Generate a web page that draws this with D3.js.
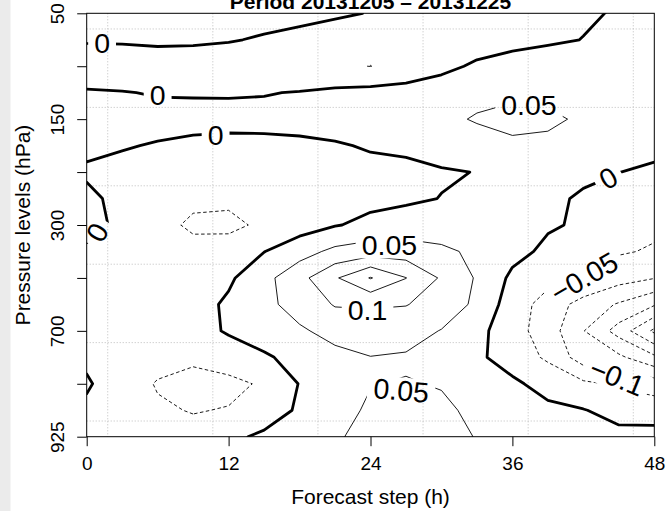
<!DOCTYPE html>
<meta charset="utf-8">
<style>
body { margin: 0; background: #fff; }
svg { display: block; font-family: "Liberation Sans", Arial, sans-serif; }
.grid line { stroke: #bdbdbd; stroke-width: 1; stroke-dasharray: 1,2; }
.axis path { display: none; }
.axis line { stroke: #000; }
</style>
<svg width="669" height="511"></svg>
<script src="https://d3js.org/d3.v7.min.js"></script>
<script>

// forecast steps (h), columns of the field
var steps = [0, 3, 6, 9, 12, 15, 18, 21, 24, 27, 30, 33, 36, 39, 42, 45, 48];

// pressure levels (hPa), rows of the field, top to bottom
var levels = [50, 70, 100, 125, 150, 175, 200, 250, 300, 400, 500, 600, 700, 775, 850, 900, 925];
var tickLevels = [50, 100, 150, 200, 300, 500, 700, 850, 925];
var labelLevels = [50, 150, 300, 700, 925];
var stepTicks = [0, 12, 24, 36, 48];

var thresholds = [-0.3, -0.25, -0.2, -0.15, -0.1, -0.05, 0, 0.05, 0.1, 0.15, 0.2];

// one row per level, one value per step
var values = [
  [0.020, 0.025, 0.030, 0.030, 0.028, 0.022, 0.015, 0.007, -0.002, -0.010, -0.015, -0.020, -0.020, -0.015, -0.006, 0.004, 0.010],
  [0.004, 0.006, 0.012, 0.010, 0.004, -0.006, -0.015, -0.025, -0.035, -0.035, -0.030, -0.022, -0.015, -0.008, 0.001, 0.012, 0.020],
  [-0.025, -0.030, -0.035, -0.035, -0.035, -0.035, -0.040, -0.045, -0.0505, -0.035, -0.012, 0.007, 0.020, 0.030, 0.035, 0.035, 0.035],
  [0.004, 0.002, -0.003, -0.003, -0.003, -0.002, 0.002, 0.010, 0.015, 0.020, 0.025, 0.040, 0.045, 0.043, 0.038, 0.035, 0.035],
  [0.012, 0.014, 0.015, 0.012, 0.011, 0.012, 0.014, 0.020, 0.025, 0.030, 0.042, 0.053, 0.058, 0.055, 0.046, 0.040, 0.040],
  [0.008, 0.003, -0.003, -0.008, -0.010, -0.010, -0.008, -0.004, 0.004, 0.012, 0.020, 0.035, 0.045, 0.044, 0.035, 0.030, 0.025],
  [-0.005, -0.012, -0.018, -0.022, -0.025, -0.025, -0.022, -0.018, -0.012, -0.015, -0.004, 0.001, 0.012, 0.012, 0.008, 0.001, -0.015],
  [0.008, -0.010, -0.025, -0.040, -0.042, -0.035, -0.028, -0.020, -0.013, -0.007, 0.001, 0.010, 0.012, 0.008, -0.005, -0.025, -0.035],
  [0.012, -0.008, -0.035, -0.058, -0.060, -0.042, -0.022, -0.003, 0.012, 0.020, 0.022, 0.020, 0.014, 0.005, -0.006, -0.030, -0.040],
  [-0.006, -0.020, -0.030, -0.035, -0.030, -0.001, 0.030, 0.062, 0.075, 0.075, 0.060, 0.040, 0.015, -0.010, -0.030, -0.045, -0.055],
  [-0.012, -0.020, -0.025, -0.025, -0.008, 0.035, 0.084, 0.144, 0.203, 0.151, 0.094, 0.045, -0.010, -0.035, -0.049, -0.080, -0.098],
  [-0.015, -0.022, -0.025, -0.020, 0.008, 0.040, 0.065, 0.104, 0.105, 0.102, 0.080, 0.040, -0.025, -0.070, -0.120, -0.155, -0.195],
  [-0.012, -0.020, -0.025, -0.022, 0.006, 0.030, 0.045, 0.062, 0.075, 0.070, 0.048, 0.015, -0.030, -0.075, -0.148, -0.220, -0.310],
  [-0.010, -0.030, -0.035, -0.040, -0.030, -0.008, 0.020, 0.040, 0.049, 0.045, 0.030, 0.010, -0.025, -0.057, -0.126, -0.140, -0.190],
  [0.006, -0.030, -0.053, -0.068, -0.060, -0.045, 0.002, 0.030, 0.049, 0.052, 0.048, 0.030, 0.010, -0.020, -0.040, -0.058, -0.075],
  [-0.010, -0.035, -0.045, -0.052, -0.048, -0.030, 0.008, 0.040, 0.054, 0.060, 0.056, 0.043, 0.025, 0.012, 0.002, -0.015, -0.020],
  [-0.030, -0.040, -0.042, -0.038, -0.012, 0.010, 0.030, 0.047, 0.058, 0.062, 0.058, 0.049, 0.040, 0.030, 0.020, 0.012, 0.015]
];

// contour labels: step (h), row position (fractional level index), angle
var contourLabels = [
  {text: "0", step: 1.3, row: 1.12, angle: 0},
  {text: "0", step: 6.0, row: 3.09, angle: 0},
  {text: "0", step: 10.9, row: 4.6, angle: 0},
  {text: "0", step: 0.87, row: 8.27, angle: -60},
  {text: "0", step: 44.1, row: 6.22, angle: -30},
  {text: "0.05", step: 37.4, row: 3.47, angle: 0},
  {text: "0.05", step: 25.6, row: 8.76, angle: 0},
  {text: "0.1", step: 23.75, row: 11.21, angle: 0},
  {text: "0.05", step: 26.6, row: 14.24, angle: 5},
  {text: "\u22120.05", step: 42.06, row: 9.97, angle: -30},
  {text: "\u22120.1", step: 44.85, row: 13.74, angle: 22}
];

var svg = d3.select("svg"),
    width = +svg.attr("width"),
    height = +svg.attr("height");

var plotL = 86.7, plotR = 654.3, plotT = 13.3, plotB = 436.7;

svg.append("rect").attr("x", 0).attr("y", 0).attr("width", 10.5).attr("height", height).attr("fill", "#ebebeb");

var x = d3.scaleLinear().domain([steps[0], steps[steps.length - 1]]).range([plotL, plotR]);
var yRow = d3.scaleLinear().domain([0, levels.length - 1]).range([plotT, plotB]);
var colStep = d3.scaleLinear().domain([0, steps.length - 1]).range([steps[0], steps[steps.length - 1]]);

var defs = svg.append("defs");
defs.append("clipPath").attr("id", "plotClip")
  .append("rect").attr("x", plotL).attr("y", plotT).attr("width", plotR - plotL).attr("height", plotB - plotT);
var mask = defs.append("mask").attr("id", "labelMask")
    .attr("maskUnits", "userSpaceOnUse")
    .attr("x", 0).attr("y", 0).attr("width", width).attr("height", height);
mask.append("rect").attr("width", width).attr("height", height).attr("fill", "white");

// dotted grid
var grid = svg.append("g").attr("class", "grid");
d3.range(6).forEach(function(k) {
  var gx = plotL + (k + 0.2) / 5.4 * (plotR - plotL);
  var gy = plotT + (k + 0.2) / 5.4 * (plotB - plotT);
  grid.append("line").attr("x1", gx).attr("x2", gx).attr("y1", plotT).attr("y2", plotB);
  grid.append("line").attr("x1", plotL).attr("x2", plotR).attr("y1", gy).attr("y2", gy);
});

// contours
var flat = [].concat.apply([], values);
var contours = d3.contours()
    .size([steps.length, levels.length])
    .thresholds(thresholds)(flat);

var proj = d3.geoTransform({
  point: function(px, py) {
    this.stream.point(x(colStep(px - 0.5)), yRow(py - 0.5));
  }
});
var path = d3.geoPath(proj);

var lines = svg.append("g")
    .attr("clip-path", "url(#plotClip)")
  .append("g")
    .attr("mask", "url(#labelMask)");

lines.selectAll("path")
  .data(contours)
  .enter().append("path")
    .attr("d", path)
    .attr("fill", "none")
    .attr("stroke", "#000")
    .attr("stroke-linejoin", "round")
    .attr("stroke-width", function(d) { return d.value === 0 ? 2.8 : 0.9; })
    .attr("stroke-dasharray", function(d) { return d.value < 0 ? "3.5,2.5" : null; });

// contour labels
var lab = svg.append("g");
contourLabels.forEach(function(d) {
  var tr = "translate(" + x(d.step) + "," + yRow(d.row) + ") rotate(" + d.angle + ")";
  var t = lab.append("text")
      .attr("transform", tr)
      .attr("text-anchor", "middle")
      .attr("dy", "0.36em")
      .attr("font-size", 28.5)
      .text(d.text);
  var b = t.node().getBBox();
  mask.append("rect")
      .attr("transform", tr)
      .attr("x", b.x - 6).attr("y", b.y + 3)
      .attr("width", b.width + 12).attr("height", b.height - 6)
      .attr("fill", "black");
});

// frame
svg.append("rect")
    .attr("x", plotL).attr("y", plotT)
    .attr("width", plotR - plotL).attr("height", plotB - plotT)
    .attr("fill", "none").attr("stroke", "#000").attr("stroke-width", 1);

// axes
var xAxis = svg.append("g")
    .attr("class", "axis")
    .attr("transform", "translate(0," + plotB + ")")
    .call(d3.axisBottom(x).tickValues(stepTicks).tickSize(9.5).tickPadding(10));
xAxis.selectAll("text")
    .attr("font-size", 19)
    .attr("font-family", "Liberation Sans, Arial, sans-serif")
    .attr("fill", "#000");

var yAxis = svg.append("g")
    .attr("class", "axis")
    .attr("transform", "translate(" + plotL + ",0)")
    .call(d3.axisLeft(yRow)
      .tickValues(tickLevels.map(function(l) { return levels.indexOf(l); }))
      .tickSize(9.5)
      .tickFormat(function(i) { return labelLevels.indexOf(levels[i]) >= 0 ? levels[i] : ""; }));
yAxis.selectAll("text")
    .attr("transform", "rotate(-90)")
    .attr("x", 0)
    .attr("y", -29.2)
    .attr("dy", "0.36em")
    .attr("text-anchor", "middle")
    .attr("font-size", 19)
    .attr("font-family", "Liberation Sans, Arial, sans-serif")
    .attr("fill", "#000");

// titles
svg.append("text")
    .attr("x", (plotL + plotR) / 2).attr("y", 504)
    .attr("text-anchor", "middle")
    .attr("font-size", 21)
    .text("Forecast step (h)");

svg.append("text")
    .attr("transform", "translate(29.5," + (plotT + plotB) / 2 + ") rotate(-90)")
    .attr("text-anchor", "middle")
    .attr("font-size", 21)
    .text("Pressure levels (hPa)");

svg.append("text")
    .attr("x", (plotL + plotR) / 2).attr("y", 8.5)
    .attr("text-anchor", "middle")
    .attr("font-size", 21)
    .attr("font-weight", "bold")
    .text("Period 20131205 \u2013 20131225");

</script>
